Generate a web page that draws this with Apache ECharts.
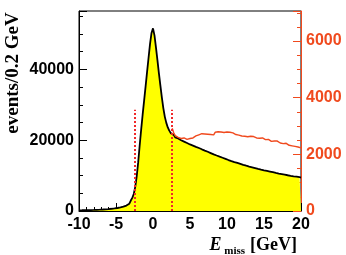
<!DOCTYPE html>
<html>

<head>
  <meta charset="UTF-8">
  <title>E_miss</title>
  <script src="https://cdn.jsdelivr.net/npm/echarts@6/dist/echarts.min.js"></script>
  <style>
    html, body { margin: 0; padding: 0; background: #fff; }
    #chart { width: 346px; height: 255px; }
  </style>
</head>

<body>
  <div id="chart"></div>
  <script>
    // binning: 0.2 GeV bins from -10 to 20
    const binStart = -10;
    const binWidth = 0.2;
    const xTicks = [-10, -5, 0, 5, 10, 15, 20];

    // events/0.2 GeV (left axis)
    const mainValues = [
      200, 205, 210, 220, 230, 240, 250, 265, 280, 295,
      310, 330, 350, 370, 395, 420, 450, 480, 515, 550,
      590, 630, 680, 730, 790,
      850, 920, 1000, 1100, 1220, 1360, 1540, 1760, 2050, 2450,
      2950, 3700, 4800,
      6800, 9800, 13800, 18500, 23000, 27200, 31200, 35200, 39300, 43300,
      47200, 50300,
      51600, 49600, 46200, 42600, 38900, 35400, 32000, 29000, 26600, 24900,
      23600, 22700, 22000, 21500, 21100, 20800, 20500, 20250, 20000, 19800,
      19600, 19400, 19200, 19000, 18800,
      18650, 18470, 18320, 18130, 17980,
      17800, 17630, 17430, 17270, 17070,
      16900, 16730, 16530, 16370, 16170,
      16000, 15850, 15670, 15530, 15350,
      15200, 15050, 14870, 14730, 14550,
      14400, 14270, 14110, 13990, 13830,
      13700, 13580, 13430, 13320, 13170,
      13050, 12940, 12800, 12700, 12560,
      12450, 12350, 12220, 12130, 12000,
      11900, 11810, 11690, 11610, 11490,
      11400, 11320, 11210, 11140, 11030,
      10950, 10870, 10760, 10690, 10580,
      10500, 10430, 10330, 10270, 10170,
      10100, 10040, 9950, 9900, 9810,
      9750, 9690, 9600, 9550, 9460
    ];

    // second distribution for E_miss > 2.5 GeV (right axis)
    const sideStart = 2.6;
    const sideValues = [
      2920, 2760, 2660, 2600, 2570, 2560, 2540, 2580, 2550, 2530, 2570, 2560,
      2600, 2580, 2620, 2650, 2640,
      2690, 2710, 2730, 2700, 2720,
      2740, 2710, 2730, 2700, 2720,
      2690, 2740, 2780, 2800, 2840,
      2790, 2760, 2770, 2740, 2790,
      2820, 2780, 2830, 2760, 2730,
      2700, 2720, 2680, 2690, 2650,
      2670, 2640, 2660, 2620, 2650,
      2640, 2610, 2630, 2600, 2580,
      2610, 2570, 2550, 2580, 2540,
      2520, 2500, 2530, 2490, 2460,
      2500, 2470, 2440, 2470, 2420,
      2400, 2420, 2380, 2360, 2390,
      2340, 2320, 2350, 2300, 2310,
      2280, 2300, 2260, 2270, 2230
    ];

    // signal window cuts
    const cutValues = [-2.5, 2.5];
    const cutHeight = 28600;

    const leftMax = 56500;
    const rightMax = leftMax / 8;

    function toSteps(start, values) {
      const pts = values.map((v, i) => [start + i * binWidth, v]);
      pts.push([start + values.length * binWidth, values[values.length - 1]]);
      return pts;
    }

    const red = '#f04a1e';
    const labelFont = { fontFamily: 'Liberation Sans', fontWeight: 'bold', fontSize: 16 };
    const plain = v => String(v);

    const chart = echarts.init(document.getElementById('chart'));
    chart.setOption({
      animation: false,
      grid: { left: 79, right: 45, top: 11, bottom: 44, show: true, borderColor: '#000', borderWidth: 1 },
      title: {
        right: 44, top: 229,
        text: '{e|E}{s| miss} {g|[GeV]}',
        textStyle: {
          rich: {
            e: { fontFamily: 'Liberation Serif', fontStyle: 'italic', fontWeight: 'bold', fontSize: 18, color: '#000', verticalAlign: 'bottom', lineHeight: 20 },
            s: { fontFamily: 'Liberation Serif', fontWeight: 'bold', fontSize: 11, color: '#000', verticalAlign: 'bottom', lineHeight: 14, padding: [0, 0, -3, 0] },
            g: { fontFamily: 'Liberation Serif', fontWeight: 'bold', fontSize: 18, color: '#000', verticalAlign: 'bottom', lineHeight: 20 }
          }
        }
      },
      graphic: [{
        type: 'text', x: 13, y: 73, rotation: Math.PI / 2,
        style: {
          text: 'events/0.2 GeV', fill: '#000', textAlign: 'center', textVerticalAlign: 'middle',
          font: 'bold 19px "Liberation Serif"'
        }
      }],
      xAxis: {
        type: 'value', min: xTicks[0], max: xTicks[xTicks.length - 1], interval: 5,
        axisLine: { onZero: false, lineStyle: { color: '#000', width: 1 } },
        axisTick: { inside: true, length: 8, lineStyle: { color: '#000' } },
        minorTick: { show: true, splitNumber: 5, length: 4, lineStyle: { color: '#000' } },
        splitLine: { show: false },
        axisLabel: Object.assign({ color: '#000', margin: 6, formatter: plain }, labelFont)
      },
      yAxis: [{
        type: 'value', min: 0, max: leftMax, interval: 20000, position: 'left',
        axisLine: { show: true, onZero: false, lineStyle: { color: '#000', width: 1 } },
        axisTick: { show: true, inside: true, length: 8, lineStyle: { color: '#000' } },
        minorTick: { show: true, splitNumber: 4, length: 4, lineStyle: { color: '#000' } },
        splitLine: { show: false },
        axisLabel: Object.assign({ color: '#000', margin: 5, showMaxLabel: false, formatter: plain }, labelFont)
      }, {
        type: 'value', min: 0, max: rightMax, interval: 2000, position: 'right',
        axisLine: { show: true, onZero: false, lineStyle: { color: red, width: 1 } },
        axisTick: { show: true, inside: true, length: 8, lineStyle: { color: red } },
        minorTick: { show: true, splitNumber: 4, length: 4, lineStyle: { color: red } },
        splitLine: { show: false },
        axisLabel: Object.assign({ color: red, margin: 5, showMaxLabel: false, formatter: plain }, labelFont)
      }],
      series: [{
        type: 'line', step: 'end', yAxisIndex: 0, symbol: 'none',
        data: toSteps(binStart, mainValues),
        lineStyle: { color: '#000', width: 1.8 },
        areaStyle: { color: '#ffff00', opacity: 1 },
        markLine: {
          silent: true, symbol: 'none', label: { show: false },
          lineStyle: { color: '#f0282a', type: [2, 2], width: 2 },
          data: cutValues.map(c => [{ coord: [c, 0] }, { coord: [c, cutHeight] }])
        },
        z: 2
      }, {
        type: 'line', step: 'end', yAxisIndex: 1, symbol: 'none',
        data: toSteps(sideStart, sideValues),
        lineStyle: { color: red, width: 1.4 },
        z: 3
      }]
    });
  </script>
</body>

</html>
